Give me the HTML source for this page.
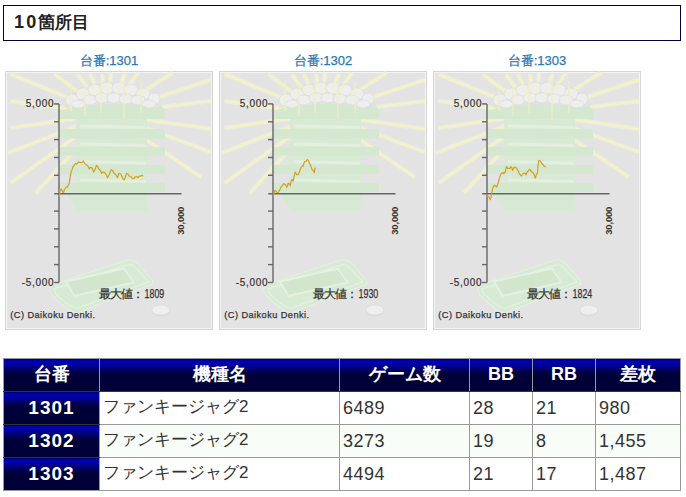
<!DOCTYPE html>
<html><head><meta charset="utf-8"><style>
html,body{margin:0;padding:0;background:#fff;width:686px;height:497px;overflow:hidden;position:relative;font-family:"Liberation Sans",sans-serif}
.hd{position:absolute;left:3px;top:5px;width:676px;height:34px;border:1px solid #000040;box-sizing:content-box}
.hd span{position:absolute;left:10px;top:6px;font-size:17px;font-weight:bold;color:#222;line-height:20px}
.hd i{font-style:normal;font-size:18px;letter-spacing:2.2px}
.cap{position:absolute;top:53px;width:208px;text-align:center;font-size:13px;color:#2b78b0;line-height:16px;-webkit-text-stroke:0.25px #2b78b0}
.pn{position:absolute;top:71px;display:block}
table{position:absolute;left:3px;top:358px;border-collapse:collapse;font-family:"Liberation Sans",sans-serif}
th,td{border:1px solid #999;height:33px;padding:0;box-sizing:border-box}
th{color:#fff;font-weight:bold;font-size:18px;text-align:center;padding-bottom:2px;background:linear-gradient(#000090 0px,#0000b8 2px,#000098 6px,#00004c 12px,#000038 16px,#000038 100%);border-bottom-color:#333}
tr.h th{border-color:#999 #999 #333 #999}
td{font-size:17px;color:#333;text-align:left;padding-left:3px;padding-bottom:3px}
td.n{font-size:18px;letter-spacing:0.5px;padding-bottom:0}
th.n{font-size:19px;letter-spacing:1px;padding-bottom:1px}
tr.alt td{background:#f8fdf8}
tr:last-child th{border-bottom-color:#999}
</style></head><body>
<div class="hd"><span><i>10</i>箇所目</span></div>
<div class="cap" style="left:5px">台番:1301</div><svg class="pn" style="left:5px" width="208" height="259" viewBox="0 0 208 259"><rect x="0" y="0" width="208" height="259" fill="#d4d4d4"/><rect x="1" y="1" width="206" height="257" fill="#f4f4f4"/><defs><clipPath id="topclip"><rect x="0" y="0" width="208" height="24"/></clipPath></defs><rect x="2" y="2" width="204" height="255" fill="#e3e3e3"/><g stroke="#ebebe5" stroke-width="4.5"><line x1="103" y1="43" x2="5.6" y2="3.2"/><line x1="103" y1="43" x2="49.4" y2="3.2"/><line x1="103" y1="43" x2="5.6" y2="30"/><line x1="103" y1="43" x2="5.6" y2="57"/><line x1="103" y1="43" x2="2.8" y2="82"/><line x1="103" y1="43" x2="5.6" y2="112"/><line x1="103" y1="43" x2="31" y2="122"/><line x1="103" y1="43" x2="167.7" y2="1.8"/><line x1="103" y1="43" x2="205.8" y2="8.9"/><line x1="103" y1="43" x2="205.8" y2="30"/><line x1="103" y1="43" x2="205.8" y2="58"/><line x1="103" y1="43" x2="205.8" y2="81"/><line x1="103" y1="43" x2="195.9" y2="106"/><line x1="103" y1="43" x2="72.7" y2="3.5"/><line x1="103" y1="43" x2="85" y2="3"/><line x1="103" y1="43" x2="97" y2="3"/><line x1="103" y1="43" x2="106" y2="2"/><line x1="103" y1="43" x2="120" y2="3"/><line x1="103" y1="43" x2="133" y2="2"/></g><g stroke="#f3f4c0" stroke-width="2.2"><line x1="103" y1="43" x2="5.6" y2="3.2"/><line x1="103" y1="43" x2="49.4" y2="3.2"/><line x1="103" y1="43" x2="5.6" y2="30"/><line x1="103" y1="43" x2="5.6" y2="57"/><line x1="103" y1="43" x2="2.8" y2="82"/><line x1="103" y1="43" x2="5.6" y2="112"/><line x1="103" y1="43" x2="31" y2="122"/><line x1="103" y1="43" x2="167.7" y2="1.8"/><line x1="103" y1="43" x2="205.8" y2="8.9"/><line x1="103" y1="43" x2="205.8" y2="30"/><line x1="103" y1="43" x2="205.8" y2="58"/><line x1="103" y1="43" x2="205.8" y2="81"/><line x1="103" y1="43" x2="195.9" y2="106"/><line x1="103" y1="43" x2="72.7" y2="3.5"/><line x1="103" y1="43" x2="85" y2="3"/><line x1="103" y1="43" x2="97" y2="3"/><line x1="103" y1="43" x2="106" y2="2"/><line x1="103" y1="43" x2="120" y2="3"/><line x1="103" y1="43" x2="133" y2="2"/></g><rect x="71" y="47" width="71" height="11" fill="#d8e9d4"/><rect x="71" y="67.5" width="71" height="8.5" fill="#d8e9d4"/><rect x="71" y="84.5" width="71" height="9.200000000000003" fill="#d8e9d4"/><rect x="71" y="103" width="71" height="9" fill="#d8e9d4"/><rect x="54" y="58" width="106" height="9.5" rx="1.5" fill="#d3e8ce"/><rect x="54" y="76" width="106" height="8.5" rx="1.5" fill="#d3e8ce"/><rect x="54" y="93.7" width="106" height="9.299999999999997" rx="1.5" fill="#d3e8ce"/><rect x="54" y="112" width="106" height="9" rx="1.5" fill="#d3e8ce"/><line x1="75" y1="55" x2="141" y2="56.5" stroke="#e3f0e0" stroke-width="3"/><line x1="75" y1="73" x2="141" y2="74.5" stroke="#e3f0e0" stroke-width="3"/><line x1="75" y1="90.7" x2="141" y2="92.2" stroke="#e3f0e0" stroke-width="3"/><line x1="75" y1="109" x2="141" y2="110.5" stroke="#e3f0e0" stroke-width="3"/><path d="M54,40 L86,31 L151,33 Q158,35 160,39 L160,48 L54,48 Z" fill="#d3e8ce"/><path d="M60,37 Q61,28 70,23 Q80,15 92,13 Q103,10 115,11 Q128,13 138,18 Q150,23 156,31 L157,36 Q110,30 60,37 Z" fill="#e2e2e2"/><g fill="#eeeeee" stroke="#dadada" stroke-width="0.7"><ellipse cx="67" cy="29" rx="7" ry="6"/><ellipse cx="78" cy="23" rx="7" ry="6"/><ellipse cx="90" cy="19" rx="7" ry="6"/><ellipse cx="102" cy="17" rx="7" ry="6"/><ellipse cx="114" cy="17" rx="7" ry="6"/><ellipse cx="126" cy="19" rx="7" ry="6"/><ellipse cx="138" cy="23" rx="7" ry="6"/><ellipse cx="149" cy="28" rx="6" ry="6"/><ellipse cx="73" cy="33" rx="7" ry="4"/><ellipse cx="85" cy="29" rx="7" ry="5"/><ellipse cx="97" cy="27" rx="7" ry="5"/><ellipse cx="109" cy="27" rx="7" ry="5"/><ellipse cx="121" cy="28" rx="7" ry="5"/><ellipse cx="133" cy="29" rx="7" ry="5"/><ellipse cx="144" cy="33" rx="7" ry="4"/></g><g stroke="#f3f4c0" stroke-width="1.8" opacity="0.55" clip-path="url(#topclip)"><line x1="103" y1="43" x2="5.6" y2="3.2"/><line x1="103" y1="43" x2="49.4" y2="3.2"/><line x1="103" y1="43" x2="5.6" y2="30"/><line x1="103" y1="43" x2="5.6" y2="57"/><line x1="103" y1="43" x2="2.8" y2="82"/><line x1="103" y1="43" x2="5.6" y2="112"/><line x1="103" y1="43" x2="31" y2="122"/><line x1="103" y1="43" x2="167.7" y2="1.8"/><line x1="103" y1="43" x2="205.8" y2="8.9"/><line x1="103" y1="43" x2="205.8" y2="30"/><line x1="103" y1="43" x2="205.8" y2="58"/><line x1="103" y1="43" x2="205.8" y2="81"/><line x1="103" y1="43" x2="195.9" y2="106"/><line x1="103" y1="43" x2="72.7" y2="3.5"/><line x1="103" y1="43" x2="85" y2="3"/><line x1="103" y1="43" x2="97" y2="3"/><line x1="103" y1="43" x2="106" y2="2"/><line x1="103" y1="43" x2="120" y2="3"/><line x1="103" y1="43" x2="133" y2="2"/></g><g stroke="#eef0c4" stroke-width="1.3"><line x1="66" y1="10" x2="66" y2="40"/><line x1="80" y1="10" x2="80" y2="45"/><line x1="96" y1="10" x2="96" y2="42"/><line x1="119" y1="10" x2="119" y2="48"/><line x1="136" y1="10" x2="136" y2="42"/></g><polygon points="60,121 142,121 142,140 73,140" fill="#d6e9d2"/><path d="M44.4,219 L49,213 L122,189.2 Q128,188 133,192.7 L147.6,210.2 L147.6,213 L73,241.5 Q66,243 47,224.2 Z" fill="#d7ead3" stroke="#e3efe0" stroke-width="1.2"/><path d="M49,218 L122,194 Q127,193 130,196 L144,211 L73,237 Q66,238 51,223 Z" fill="none" stroke="#e4f0e1" stroke-width="1.5"/><polygon points="61,210.5 119,197.5 128.5,211.5 69.5,225" fill="#d2e6cd" stroke="#e6f1e3" stroke-width="1.8"/><ellipse cx="155.8" cy="241" rx="9" ry="5" fill="#dedede"/><ellipse cx="155.8" cy="239" rx="9" ry="5" fill="#efefef" stroke="#d9d9d9" stroke-width="0.7"/><g stroke="#666" stroke-width="1.4"><line x1="54" y1="32.9" x2="54" y2="211.5"/><line x1="49" y1="32.9" x2="54" y2="32.9"/><line x1="49" y1="50.8" x2="54" y2="50.8"/><line x1="49" y1="68.6" x2="54" y2="68.6"/><line x1="49" y1="86.5" x2="54" y2="86.5"/><line x1="49" y1="104.3" x2="54" y2="104.3"/><line x1="49" y1="140.1" x2="54" y2="140.1"/><line x1="49" y1="157.9" x2="54" y2="157.9"/><line x1="49" y1="175.8" x2="54" y2="175.8"/><line x1="49" y1="193.6" x2="54" y2="193.6"/><line x1="49" y1="211.5" x2="54" y2="211.5"/><line x1="49.2" y1="122.75" x2="176.5" y2="122.75"/></g><polyline points="54.4,125.6 54.8,122.9 55.1,118.4 56.2,118.2 57.3,119.8 58.0,121.5 58.7,121.3 59.5,118.5 60.2,117.6 61.3,116.0 62.4,116.2 63.1,114.2 63.8,114.0 64.5,110.5 65.3,105.2 66.0,101.4 66.8,99.4 67.9,95.9 69.0,94.3 70.5,92.6 71.9,92.8 73.3,91.2 74.8,91.4 76.6,91.6 78.4,89.9 79.8,92.7 81.3,93.6 82.8,94.9 84.3,98.0 85.3,96.3 86.4,96.5 87.5,97.8 88.6,100.9 90.0,98.5 91.5,94.3 92.6,95.2 93.7,98.0 95.2,99.2 96.6,102.3 98.1,101.0 99.6,101.6 101.0,103.2 102.5,106.7 104.3,103.6 106.1,98.7 107.5,99.6 109.0,102.3 110.8,103.6 112.7,106.7 113.4,103.6 114.1,102.3 115.5,102.8 117.0,105.2 118.1,108.0 119.2,108.9 120.3,106.5 121.4,102.3 122.8,102.8 124.3,105.2 125.8,105.4 127.3,107.4 128.8,107.6 130.2,106.0 131.6,105.4 133.1,106.7 134.2,105.0 135.3,105.2 136.8,104.3 138.2,105.2" fill="none" stroke="#d6a01e" stroke-width="1.2" stroke-linejoin="round"/><g font-family="Liberation Sans, sans-serif" fill="#333" stroke="#333" stroke-width="0.2" font-size="10" letter-spacing="0.7"><text x="49.3" y="36" text-anchor="end">5,000</text><text x="49.3" y="214.5" text-anchor="end">-5,000</text><text transform="translate(179.4,149.8) rotate(-90)" text-anchor="middle" font-size="9.5" font-weight="bold" stroke-width="0" letter-spacing="-0.2">30,000</text></g><text x="5.3" y="246.8" font-family="Liberation Sans, sans-serif" font-size="9.2" fill="#333" stroke="#333" stroke-width="0.25" letter-spacing="0.45">(C) Daikoku Denki.</text><text x="93.5" y="226.5" font-family="Liberation Sans, sans-serif" font-size="12" fill="#333" stroke="#333" stroke-width="0.25" textLength="45" lengthAdjust="spacing">最大値：</text><text x="139.5" y="226.5" font-family="Liberation Sans, sans-serif" font-size="12" fill="#333" stroke="#333" stroke-width="0.25" textLength="19.8" lengthAdjust="spacingAndGlyphs">1809</text></svg><div class="cap" style="left:219px">台番:1302</div><svg class="pn" style="left:219px" width="208" height="259" viewBox="0 0 208 259"><rect x="0" y="0" width="208" height="259" fill="#d4d4d4"/><rect x="1" y="1" width="206" height="257" fill="#f4f4f4"/><defs><clipPath id="topclip"><rect x="0" y="0" width="208" height="24"/></clipPath></defs><rect x="2" y="2" width="204" height="255" fill="#e3e3e3"/><g stroke="#ebebe5" stroke-width="4.5"><line x1="103" y1="43" x2="5.6" y2="3.2"/><line x1="103" y1="43" x2="49.4" y2="3.2"/><line x1="103" y1="43" x2="5.6" y2="30"/><line x1="103" y1="43" x2="5.6" y2="57"/><line x1="103" y1="43" x2="2.8" y2="82"/><line x1="103" y1="43" x2="5.6" y2="112"/><line x1="103" y1="43" x2="31" y2="122"/><line x1="103" y1="43" x2="167.7" y2="1.8"/><line x1="103" y1="43" x2="205.8" y2="8.9"/><line x1="103" y1="43" x2="205.8" y2="30"/><line x1="103" y1="43" x2="205.8" y2="58"/><line x1="103" y1="43" x2="205.8" y2="81"/><line x1="103" y1="43" x2="195.9" y2="106"/><line x1="103" y1="43" x2="72.7" y2="3.5"/><line x1="103" y1="43" x2="85" y2="3"/><line x1="103" y1="43" x2="97" y2="3"/><line x1="103" y1="43" x2="106" y2="2"/><line x1="103" y1="43" x2="120" y2="3"/><line x1="103" y1="43" x2="133" y2="2"/></g><g stroke="#f3f4c0" stroke-width="2.2"><line x1="103" y1="43" x2="5.6" y2="3.2"/><line x1="103" y1="43" x2="49.4" y2="3.2"/><line x1="103" y1="43" x2="5.6" y2="30"/><line x1="103" y1="43" x2="5.6" y2="57"/><line x1="103" y1="43" x2="2.8" y2="82"/><line x1="103" y1="43" x2="5.6" y2="112"/><line x1="103" y1="43" x2="31" y2="122"/><line x1="103" y1="43" x2="167.7" y2="1.8"/><line x1="103" y1="43" x2="205.8" y2="8.9"/><line x1="103" y1="43" x2="205.8" y2="30"/><line x1="103" y1="43" x2="205.8" y2="58"/><line x1="103" y1="43" x2="205.8" y2="81"/><line x1="103" y1="43" x2="195.9" y2="106"/><line x1="103" y1="43" x2="72.7" y2="3.5"/><line x1="103" y1="43" x2="85" y2="3"/><line x1="103" y1="43" x2="97" y2="3"/><line x1="103" y1="43" x2="106" y2="2"/><line x1="103" y1="43" x2="120" y2="3"/><line x1="103" y1="43" x2="133" y2="2"/></g><rect x="71" y="47" width="71" height="11" fill="#d8e9d4"/><rect x="71" y="67.5" width="71" height="8.5" fill="#d8e9d4"/><rect x="71" y="84.5" width="71" height="9.200000000000003" fill="#d8e9d4"/><rect x="71" y="103" width="71" height="9" fill="#d8e9d4"/><rect x="54" y="58" width="106" height="9.5" rx="1.5" fill="#d3e8ce"/><rect x="54" y="76" width="106" height="8.5" rx="1.5" fill="#d3e8ce"/><rect x="54" y="93.7" width="106" height="9.299999999999997" rx="1.5" fill="#d3e8ce"/><rect x="54" y="112" width="106" height="9" rx="1.5" fill="#d3e8ce"/><line x1="75" y1="55" x2="141" y2="56.5" stroke="#e3f0e0" stroke-width="3"/><line x1="75" y1="73" x2="141" y2="74.5" stroke="#e3f0e0" stroke-width="3"/><line x1="75" y1="90.7" x2="141" y2="92.2" stroke="#e3f0e0" stroke-width="3"/><line x1="75" y1="109" x2="141" y2="110.5" stroke="#e3f0e0" stroke-width="3"/><path d="M54,40 L86,31 L151,33 Q158,35 160,39 L160,48 L54,48 Z" fill="#d3e8ce"/><path d="M60,37 Q61,28 70,23 Q80,15 92,13 Q103,10 115,11 Q128,13 138,18 Q150,23 156,31 L157,36 Q110,30 60,37 Z" fill="#e2e2e2"/><g fill="#eeeeee" stroke="#dadada" stroke-width="0.7"><ellipse cx="67" cy="29" rx="7" ry="6"/><ellipse cx="78" cy="23" rx="7" ry="6"/><ellipse cx="90" cy="19" rx="7" ry="6"/><ellipse cx="102" cy="17" rx="7" ry="6"/><ellipse cx="114" cy="17" rx="7" ry="6"/><ellipse cx="126" cy="19" rx="7" ry="6"/><ellipse cx="138" cy="23" rx="7" ry="6"/><ellipse cx="149" cy="28" rx="6" ry="6"/><ellipse cx="73" cy="33" rx="7" ry="4"/><ellipse cx="85" cy="29" rx="7" ry="5"/><ellipse cx="97" cy="27" rx="7" ry="5"/><ellipse cx="109" cy="27" rx="7" ry="5"/><ellipse cx="121" cy="28" rx="7" ry="5"/><ellipse cx="133" cy="29" rx="7" ry="5"/><ellipse cx="144" cy="33" rx="7" ry="4"/></g><g stroke="#f3f4c0" stroke-width="1.8" opacity="0.55" clip-path="url(#topclip)"><line x1="103" y1="43" x2="5.6" y2="3.2"/><line x1="103" y1="43" x2="49.4" y2="3.2"/><line x1="103" y1="43" x2="5.6" y2="30"/><line x1="103" y1="43" x2="5.6" y2="57"/><line x1="103" y1="43" x2="2.8" y2="82"/><line x1="103" y1="43" x2="5.6" y2="112"/><line x1="103" y1="43" x2="31" y2="122"/><line x1="103" y1="43" x2="167.7" y2="1.8"/><line x1="103" y1="43" x2="205.8" y2="8.9"/><line x1="103" y1="43" x2="205.8" y2="30"/><line x1="103" y1="43" x2="205.8" y2="58"/><line x1="103" y1="43" x2="205.8" y2="81"/><line x1="103" y1="43" x2="195.9" y2="106"/><line x1="103" y1="43" x2="72.7" y2="3.5"/><line x1="103" y1="43" x2="85" y2="3"/><line x1="103" y1="43" x2="97" y2="3"/><line x1="103" y1="43" x2="106" y2="2"/><line x1="103" y1="43" x2="120" y2="3"/><line x1="103" y1="43" x2="133" y2="2"/></g><g stroke="#eef0c4" stroke-width="1.3"><line x1="66" y1="10" x2="66" y2="40"/><line x1="80" y1="10" x2="80" y2="45"/><line x1="96" y1="10" x2="96" y2="42"/><line x1="119" y1="10" x2="119" y2="48"/><line x1="136" y1="10" x2="136" y2="42"/></g><polygon points="60,121 142,121 142,140 73,140" fill="#d6e9d2"/><path d="M44.4,219 L49,213 L122,189.2 Q128,188 133,192.7 L147.6,210.2 L147.6,213 L73,241.5 Q66,243 47,224.2 Z" fill="#d7ead3" stroke="#e3efe0" stroke-width="1.2"/><path d="M49,218 L122,194 Q127,193 130,196 L144,211 L73,237 Q66,238 51,223 Z" fill="none" stroke="#e4f0e1" stroke-width="1.5"/><polygon points="61,210.5 119,197.5 128.5,211.5 69.5,225" fill="#d2e6cd" stroke="#e6f1e3" stroke-width="1.8"/><ellipse cx="155.8" cy="241" rx="9" ry="5" fill="#dedede"/><ellipse cx="155.8" cy="239" rx="9" ry="5" fill="#efefef" stroke="#d9d9d9" stroke-width="0.7"/><g stroke="#666" stroke-width="1.4"><line x1="54" y1="32.9" x2="54" y2="211.5"/><line x1="49" y1="32.9" x2="54" y2="32.9"/><line x1="49" y1="50.8" x2="54" y2="50.8"/><line x1="49" y1="68.6" x2="54" y2="68.6"/><line x1="49" y1="86.5" x2="54" y2="86.5"/><line x1="49" y1="104.3" x2="54" y2="104.3"/><line x1="49" y1="140.1" x2="54" y2="140.1"/><line x1="49" y1="157.9" x2="54" y2="157.9"/><line x1="49" y1="175.8" x2="54" y2="175.8"/><line x1="49" y1="193.6" x2="54" y2="193.6"/><line x1="49" y1="211.5" x2="54" y2="211.5"/><line x1="49.2" y1="122.75" x2="176.5" y2="122.75"/></g><polyline points="54.1,124.3 54.9,123.0 55.6,119.8 56.6,119.6 57.6,121.3 58.9,121.7 60.1,120.3 62.1,116.1 64.1,113.7 64.8,112.5 65.6,113.2 66.7,113.8 67.7,116.3 68.5,115.2 69.2,112.2 70.2,112.6 71.2,114.8 72.0,110.8 72.7,108.7 73.5,108.5 74.2,110.2 75.2,104.8 76.2,101.2 77.5,103.4 78.7,103.7 79.7,102.8 80.7,100.1 82.0,96.7 83.3,95.1 83.8,94.2 84.3,95.1 85.0,91.9 85.8,90.6 87.0,90.5 88.3,88.6 89.3,89.4 90.3,92.1 91.8,94.7 93.3,99.1 94.3,99.5 95.3,101.7 95.8,98.2 96.4,96.6" fill="none" stroke="#d6a01e" stroke-width="1.2" stroke-linejoin="round"/><g font-family="Liberation Sans, sans-serif" fill="#333" stroke="#333" stroke-width="0.2" font-size="10" letter-spacing="0.7"><text x="49.3" y="36" text-anchor="end">5,000</text><text x="49.3" y="214.5" text-anchor="end">-5,000</text><text transform="translate(179.4,149.8) rotate(-90)" text-anchor="middle" font-size="9.5" font-weight="bold" stroke-width="0" letter-spacing="-0.2">30,000</text></g><text x="5.3" y="246.8" font-family="Liberation Sans, sans-serif" font-size="9.2" fill="#333" stroke="#333" stroke-width="0.25" letter-spacing="0.45">(C) Daikoku Denki.</text><text x="93.5" y="226.5" font-family="Liberation Sans, sans-serif" font-size="12" fill="#333" stroke="#333" stroke-width="0.25" textLength="45" lengthAdjust="spacing">最大値：</text><text x="139.5" y="226.5" font-family="Liberation Sans, sans-serif" font-size="12" fill="#333" stroke="#333" stroke-width="0.25" textLength="19.8" lengthAdjust="spacingAndGlyphs">1930</text></svg><div class="cap" style="left:433px">台番:1303</div><svg class="pn" style="left:433px" width="208" height="259" viewBox="0 0 208 259"><rect x="0" y="0" width="208" height="259" fill="#d4d4d4"/><rect x="1" y="1" width="206" height="257" fill="#f4f4f4"/><defs><clipPath id="topclip"><rect x="0" y="0" width="208" height="24"/></clipPath></defs><rect x="2" y="2" width="204" height="255" fill="#e3e3e3"/><g stroke="#ebebe5" stroke-width="4.5"><line x1="103" y1="43" x2="5.6" y2="3.2"/><line x1="103" y1="43" x2="49.4" y2="3.2"/><line x1="103" y1="43" x2="5.6" y2="30"/><line x1="103" y1="43" x2="5.6" y2="57"/><line x1="103" y1="43" x2="2.8" y2="82"/><line x1="103" y1="43" x2="5.6" y2="112"/><line x1="103" y1="43" x2="31" y2="122"/><line x1="103" y1="43" x2="167.7" y2="1.8"/><line x1="103" y1="43" x2="205.8" y2="8.9"/><line x1="103" y1="43" x2="205.8" y2="30"/><line x1="103" y1="43" x2="205.8" y2="58"/><line x1="103" y1="43" x2="205.8" y2="81"/><line x1="103" y1="43" x2="195.9" y2="106"/><line x1="103" y1="43" x2="72.7" y2="3.5"/><line x1="103" y1="43" x2="85" y2="3"/><line x1="103" y1="43" x2="97" y2="3"/><line x1="103" y1="43" x2="106" y2="2"/><line x1="103" y1="43" x2="120" y2="3"/><line x1="103" y1="43" x2="133" y2="2"/></g><g stroke="#f3f4c0" stroke-width="2.2"><line x1="103" y1="43" x2="5.6" y2="3.2"/><line x1="103" y1="43" x2="49.4" y2="3.2"/><line x1="103" y1="43" x2="5.6" y2="30"/><line x1="103" y1="43" x2="5.6" y2="57"/><line x1="103" y1="43" x2="2.8" y2="82"/><line x1="103" y1="43" x2="5.6" y2="112"/><line x1="103" y1="43" x2="31" y2="122"/><line x1="103" y1="43" x2="167.7" y2="1.8"/><line x1="103" y1="43" x2="205.8" y2="8.9"/><line x1="103" y1="43" x2="205.8" y2="30"/><line x1="103" y1="43" x2="205.8" y2="58"/><line x1="103" y1="43" x2="205.8" y2="81"/><line x1="103" y1="43" x2="195.9" y2="106"/><line x1="103" y1="43" x2="72.7" y2="3.5"/><line x1="103" y1="43" x2="85" y2="3"/><line x1="103" y1="43" x2="97" y2="3"/><line x1="103" y1="43" x2="106" y2="2"/><line x1="103" y1="43" x2="120" y2="3"/><line x1="103" y1="43" x2="133" y2="2"/></g><rect x="71" y="47" width="71" height="11" fill="#d8e9d4"/><rect x="71" y="67.5" width="71" height="8.5" fill="#d8e9d4"/><rect x="71" y="84.5" width="71" height="9.200000000000003" fill="#d8e9d4"/><rect x="71" y="103" width="71" height="9" fill="#d8e9d4"/><rect x="54" y="58" width="106" height="9.5" rx="1.5" fill="#d3e8ce"/><rect x="54" y="76" width="106" height="8.5" rx="1.5" fill="#d3e8ce"/><rect x="54" y="93.7" width="106" height="9.299999999999997" rx="1.5" fill="#d3e8ce"/><rect x="54" y="112" width="106" height="9" rx="1.5" fill="#d3e8ce"/><line x1="75" y1="55" x2="141" y2="56.5" stroke="#e3f0e0" stroke-width="3"/><line x1="75" y1="73" x2="141" y2="74.5" stroke="#e3f0e0" stroke-width="3"/><line x1="75" y1="90.7" x2="141" y2="92.2" stroke="#e3f0e0" stroke-width="3"/><line x1="75" y1="109" x2="141" y2="110.5" stroke="#e3f0e0" stroke-width="3"/><path d="M54,40 L86,31 L151,33 Q158,35 160,39 L160,48 L54,48 Z" fill="#d3e8ce"/><path d="M60,37 Q61,28 70,23 Q80,15 92,13 Q103,10 115,11 Q128,13 138,18 Q150,23 156,31 L157,36 Q110,30 60,37 Z" fill="#e2e2e2"/><g fill="#eeeeee" stroke="#dadada" stroke-width="0.7"><ellipse cx="67" cy="29" rx="7" ry="6"/><ellipse cx="78" cy="23" rx="7" ry="6"/><ellipse cx="90" cy="19" rx="7" ry="6"/><ellipse cx="102" cy="17" rx="7" ry="6"/><ellipse cx="114" cy="17" rx="7" ry="6"/><ellipse cx="126" cy="19" rx="7" ry="6"/><ellipse cx="138" cy="23" rx="7" ry="6"/><ellipse cx="149" cy="28" rx="6" ry="6"/><ellipse cx="73" cy="33" rx="7" ry="4"/><ellipse cx="85" cy="29" rx="7" ry="5"/><ellipse cx="97" cy="27" rx="7" ry="5"/><ellipse cx="109" cy="27" rx="7" ry="5"/><ellipse cx="121" cy="28" rx="7" ry="5"/><ellipse cx="133" cy="29" rx="7" ry="5"/><ellipse cx="144" cy="33" rx="7" ry="4"/></g><g stroke="#f3f4c0" stroke-width="1.8" opacity="0.55" clip-path="url(#topclip)"><line x1="103" y1="43" x2="5.6" y2="3.2"/><line x1="103" y1="43" x2="49.4" y2="3.2"/><line x1="103" y1="43" x2="5.6" y2="30"/><line x1="103" y1="43" x2="5.6" y2="57"/><line x1="103" y1="43" x2="2.8" y2="82"/><line x1="103" y1="43" x2="5.6" y2="112"/><line x1="103" y1="43" x2="31" y2="122"/><line x1="103" y1="43" x2="167.7" y2="1.8"/><line x1="103" y1="43" x2="205.8" y2="8.9"/><line x1="103" y1="43" x2="205.8" y2="30"/><line x1="103" y1="43" x2="205.8" y2="58"/><line x1="103" y1="43" x2="205.8" y2="81"/><line x1="103" y1="43" x2="195.9" y2="106"/><line x1="103" y1="43" x2="72.7" y2="3.5"/><line x1="103" y1="43" x2="85" y2="3"/><line x1="103" y1="43" x2="97" y2="3"/><line x1="103" y1="43" x2="106" y2="2"/><line x1="103" y1="43" x2="120" y2="3"/><line x1="103" y1="43" x2="133" y2="2"/></g><g stroke="#eef0c4" stroke-width="1.3"><line x1="66" y1="10" x2="66" y2="40"/><line x1="80" y1="10" x2="80" y2="45"/><line x1="96" y1="10" x2="96" y2="42"/><line x1="119" y1="10" x2="119" y2="48"/><line x1="136" y1="10" x2="136" y2="42"/></g><polygon points="60,121 142,121 142,140 73,140" fill="#d6e9d2"/><path d="M44.4,219 L49,213 L122,189.2 Q128,188 133,192.7 L147.6,210.2 L147.6,213 L73,241.5 Q66,243 47,224.2 Z" fill="#d7ead3" stroke="#e3efe0" stroke-width="1.2"/><path d="M49,218 L122,194 Q127,193 130,196 L144,211 L73,237 Q66,238 51,223 Z" fill="none" stroke="#e4f0e1" stroke-width="1.5"/><polygon points="61,210.5 119,197.5 128.5,211.5 69.5,225" fill="#d2e6cd" stroke="#e6f1e3" stroke-width="1.8"/><ellipse cx="155.8" cy="241" rx="9" ry="5" fill="#dedede"/><ellipse cx="155.8" cy="239" rx="9" ry="5" fill="#efefef" stroke="#d9d9d9" stroke-width="0.7"/><g stroke="#666" stroke-width="1.4"><line x1="54" y1="32.9" x2="54" y2="211.5"/><line x1="49" y1="32.9" x2="54" y2="32.9"/><line x1="49" y1="50.8" x2="54" y2="50.8"/><line x1="49" y1="68.6" x2="54" y2="68.6"/><line x1="49" y1="86.5" x2="54" y2="86.5"/><line x1="49" y1="104.3" x2="54" y2="104.3"/><line x1="49" y1="140.1" x2="54" y2="140.1"/><line x1="49" y1="157.9" x2="54" y2="157.9"/><line x1="49" y1="175.8" x2="54" y2="175.8"/><line x1="49" y1="193.6" x2="54" y2="193.6"/><line x1="49" y1="211.5" x2="54" y2="211.5"/><line x1="49.2" y1="122.75" x2="176.5" y2="122.75"/></g><polyline points="53.9,123.2 54.6,125.2 55.3,125.5 56.2,126.2 57.2,128.8 57.9,126.9 58.6,123.2 59.5,118.4 60.3,115.5 61.1,114.3 61.9,115.0 62.8,114.6 63.6,116.1 65.0,112.6 66.4,107.2 67.5,103.8 68.6,102.2 69.7,101.6 70.8,102.8 71.6,101.0 72.4,101.1 73.0,97.4 73.5,95.6 74.7,97.3 75.8,97.3 76.9,97.3 78.0,95.6 78.8,96.6 79.6,99.5 80.7,96.9 81.8,96.1 83.5,97.1 85.2,100.0 86.8,103.4 88.5,105.0 89.8,102.7 91.2,102.2 92.1,102.2 92.9,103.9 94.3,100.8 95.7,99.5 96.5,98.3 97.3,98.9 98.4,100.9 99.5,101.1 100.9,103.2 102.3,107.2 103.4,103.5 104.5,101.7 105.0,95.0 105.6,90.1 106.7,89.4 107.8,90.6 108.7,92.6 109.5,92.8 111.2,95.3 112.8,96.1" fill="none" stroke="#d6a01e" stroke-width="1.2" stroke-linejoin="round"/><g font-family="Liberation Sans, sans-serif" fill="#333" stroke="#333" stroke-width="0.2" font-size="10" letter-spacing="0.7"><text x="49.3" y="36" text-anchor="end">5,000</text><text x="49.3" y="214.5" text-anchor="end">-5,000</text><text transform="translate(179.4,149.8) rotate(-90)" text-anchor="middle" font-size="9.5" font-weight="bold" stroke-width="0" letter-spacing="-0.2">30,000</text></g><text x="5.3" y="246.8" font-family="Liberation Sans, sans-serif" font-size="9.2" fill="#333" stroke="#333" stroke-width="0.25" letter-spacing="0.45">(C) Daikoku Denki.</text><text x="93.5" y="226.5" font-family="Liberation Sans, sans-serif" font-size="12" fill="#333" stroke="#333" stroke-width="0.25" textLength="45" lengthAdjust="spacing">最大値：</text><text x="139.5" y="226.5" font-family="Liberation Sans, sans-serif" font-size="12" fill="#333" stroke="#333" stroke-width="0.25" textLength="19.8" lengthAdjust="spacingAndGlyphs">1824</text></svg>
<table>
<colgroup><col style="width:96px"><col style="width:240px"><col style="width:130px"><col style="width:63px"><col style="width:63px"><col style="width:85px"></colgroup>
<tr class="h"><th>台番</th><th>機種名</th><th>ゲーム数</th><th>BB</th><th>RB</th><th>差枚</th></tr>
<tr><th class="n">1301</th><td>ファンキージャグ2</td><td class="n">6489</td><td class="n">28</td><td class="n">21</td><td class="n">980</td></tr><tr class="alt"><th class="n">1302</th><td>ファンキージャグ2</td><td class="n">3273</td><td class="n">19</td><td class="n">8</td><td class="n">1,455</td></tr><tr><th class="n">1303</th><td>ファンキージャグ2</td><td class="n">4494</td><td class="n">21</td><td class="n">17</td><td class="n">1,487</td></tr>
</table>
</body></html>
